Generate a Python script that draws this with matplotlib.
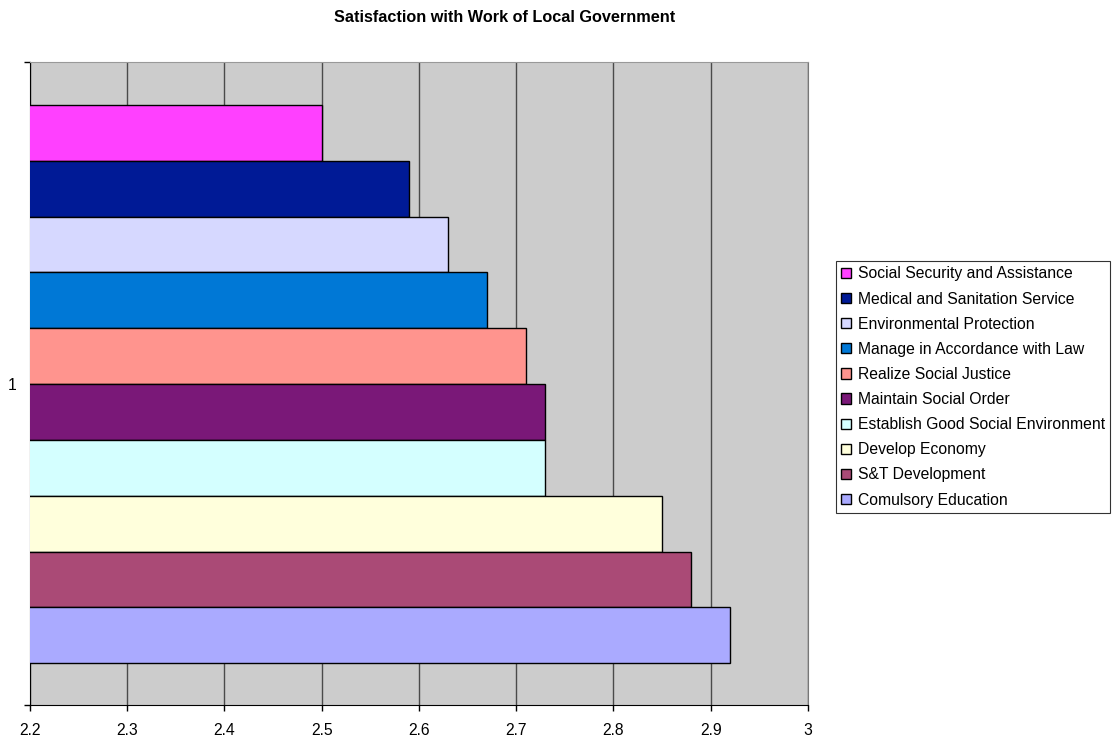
import matplotlib
matplotlib.use("Agg")
import matplotlib.pyplot as plt
from matplotlib.patches import Patch

plt.rcParams['font.family'] = ['Liberation Sans', 'DejaVu Sans']

# series in legend order (top bar first)
labels = [
    "Social Security and Assistance",
    "Medical and Sanitation Service",
    "Environmental Protection",
    "Manage in Accordance with Law",
    "Realize Social Justice",
    "Maintain Social Order",
    "Establish Good Social Environment",
    "Develop Economy",
    "S&T Development",
    "Comulsory Education",
]
values = [2.50, 2.59, 2.63, 2.67, 2.71, 2.73, 2.73, 2.85, 2.88, 2.92]
colors = [
    "#FF40FF", "#001A96", "#D6D8FF", "#0078D6", "#FF948E",
    "#7A1878", "#D4FFFF", "#FFFFDC", "#AA4A76", "#AAAAFF",
]
xticks = [2.2, 2.3, 2.4, 2.5, 2.6, 2.7, 2.8, 2.9, 3.0]
xtick_labels = ["2.2", "2.3", "2.4", "2.5", "2.6", "2.7", "2.8", "2.9", "3"]

fig = plt.figure(figsize=(11.16, 7.38), dpi=100)
W, H = 1116, 738
ax = fig.add_axes([30 / W, (H - 705) / H, (808 - 30) / W, (705 - 62) / H])
ax.set_facecolor("#CCCCCC")

n = len(values)
for i, (lab, v, c) in enumerate(zip(labels, values, colors)):
    ax.barh(n - 1 - i, v, height=1.0, color=c, edgecolor="black",
            linewidth=1.0, zorder=3)

ax.set_xlim(2.2, 3.0)
ax.set_ylim(-0.5 - 0.75, n - 0.5 + 0.77)
ax.set_xticks(xticks)
ax.set_xticklabels(xtick_labels, fontsize=11.3)
ax.xaxis.grid(True, color="#4a4a4a", linewidth=1.0, zorder=1)
ax.tick_params(axis="x", direction="out", length=4, width=1, pad=9)

# category label in the middle, tick marks at the category edges
ax.set_yticks([(n - 1) / 2])
ax.set_yticklabels(["1"], fontsize=11.3)
ax.tick_params(axis="y", which="major", length=0, pad=10)
ax.set_yticks(ax.get_ylim(), minor=True)
ax.tick_params(axis="y", which="minor", direction="out", length=4, width=1)

ax.spines["left"].set_color("black")
ax.spines["bottom"].set_color("black")
ax.spines["top"].set_color("#999999")
ax.spines["right"].set_color("#777777")

fig.text(505 / W, 1 - 17 / H, "Satisfaction with Work of Local Government",
         ha="center", va="center", fontsize=11.7, fontweight="bold")

handles = [Patch(facecolor=c, edgecolor="black", linewidth=1.0) for c in colors]
leg = fig.legend(handles, labels, loc="upper left",
                 bbox_to_anchor=(836 / W, 1 - 261 / H),
                 fontsize=11.3, frameon=True, fancybox=False,
                 handlelength=0.62, handleheight=0.62, handletextpad=0.4,
                 labelspacing=0.645, borderpad=0.35, borderaxespad=0)
leg.get_frame().set_edgecolor("black")
leg.get_frame().set_linewidth(0.8)

fig.savefig("out.png", dpi=100, facecolor="white")
